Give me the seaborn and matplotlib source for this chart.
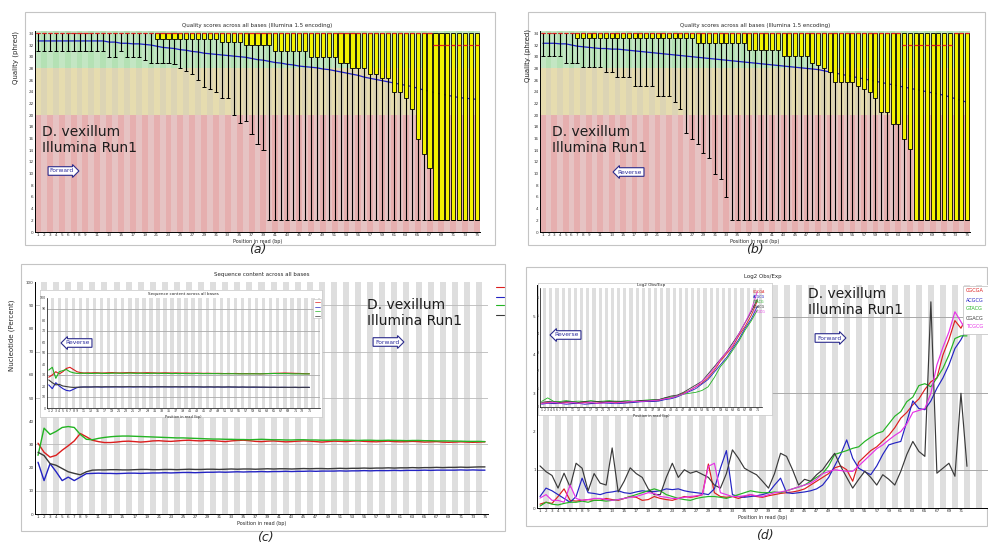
import matplotlib
matplotlib.use("Agg")
import matplotlib.pyplot as plt
from matplotlib.patches import Rectangle
from matplotlib.lines import Line2D
import numpy as np
import pandas as pd
import seaborn as sns

# ---------------- data ----------------
# (a) forward reads: per-position quality summary (phred)
a_p10 = [31, 31, 31, 31, 31, 31, 31, 31, 31, 31, 31, 31, 30, 30, 31,
         30, 30, 30, 29.5, 29, 29, 29, 29, 28.8, 28, 27.5, 27, 26, 24.8, 24.5,
         24, 23, 23, 20, 18.7, 19, 16.8, 15, 14, 2, 2, 2, 2, 2, 2,
         2, 2, 2, 2, 2, 2, 2, 2, 2, 2, 2, 2, 2, 2, 2,
         2, 2, 2, 2, 2, 2, 2, 2, 2, 2, 2, 2, 2, 2, 2]
a_q1 = [34, 34, 34, 34, 34, 34, 34, 34, 34, 34, 34, 34, 34, 34, 34,
        34, 34, 34, 34, 34, 33, 33, 33, 33, 33, 33, 33, 33, 33, 33,
        33, 32.5, 32.5, 32.5, 32.5, 32, 32, 32, 32, 32, 31, 31, 31, 31, 31,
        31, 30, 30, 30, 30, 30, 29, 29, 28, 28, 28, 27, 27, 26.3, 26.3,
        24, 24, 23, 21, 16, 13.4, 11, 2, 2, 2, 2, 2, 2, 2, 2]
a_med = [34, 34, 34, 34, 34, 34, 34, 34, 34, 34, 34, 34, 34, 34, 34,
         34, 34, 34, 34, 34, 34, 34, 34, 34, 34, 34, 34, 34, 34, 34,
         34, 34, 34, 34, 34, 34, 34, 34, 34, 34, 34, 34, 34, 34, 34,
         34, 34, 34, 34, 34, 34, 34, 34, 34, 34, 34, 34, 34, 34, 34,
         34, 34, 34, 34, 34, 34, 34, 32, 32, 32, 32, 32, 32, 32, 32]
a_q3 = [34, 34, 34, 34, 34, 34, 34, 34, 34, 34, 34, 34, 34, 34, 34,
        34, 34, 34, 34, 34, 34, 34, 34, 34, 34, 34, 34, 34, 34, 34,
        34, 34, 34, 34, 34, 34, 34, 34, 34, 34, 34, 34, 34, 34, 34,
        34, 34, 34, 34, 34, 34, 34, 34, 34, 34, 34, 34, 34, 34, 34,
        34, 34, 34, 34, 34, 34, 34, 34, 34, 34, 34, 34, 34, 34, 34]
a_p90 = list(a_q3)
a_mean = [32.7, 32.7, 32.7, 32.7, 32.7, 32.7, 32.7, 32.7, 32.7, 32.7, 32.7, 32.7, 32.5, 32.5, 32.3,
          32.3, 32.2, 32.2, 32.1, 32.0, 31.8, 31.6, 31.5, 31.4, 31.2, 31.1, 30.9, 30.8, 30.6, 30.5,
          30.4, 30.3, 30.2, 30.1, 30.0, 29.9, 29.7, 29.5, 29.4, 29.2, 29.0, 28.9, 28.7, 28.6, 28.4,
          28.3, 28.2, 28.1, 27.9, 27.8, 27.6, 27.4, 27.2, 27.0, 26.8, 26.5, 26.3, 26.1, 25.9, 25.7,
          25.5, 25.3, 25.1, 24.9, 24.6, 24.3, 24.1, 23.8, 23.6, 23.4, 23.2, 23.0, 22.9, 22.8, 22.7]

# (b) reverse reads
b_p10 = [30.1, 30.1, 30.1, 30.1, 29, 29, 29, 28.2, 28.2, 28.2, 28.2, 27.3, 27.3, 26.5, 26.5,
         26.5, 25, 25, 25, 25, 23.2, 23.2, 23.2, 22.2, 21, 17, 16, 15, 13.5, 12.7,
         10, 9, 6, 2, 2, 2, 2, 2, 2, 2, 2, 2, 2, 2, 2,
         2, 2, 2, 2, 2, 2, 2, 2, 2, 2, 2, 2, 2, 2, 2,
         2, 2, 2, 2, 2, 2, 2, 2, 2, 2, 2, 2, 2, 2, 2]
b_q1 = [34, 34, 34, 34, 34, 34, 33.2, 33.2, 33.2, 33.2, 33.2, 33.2, 33.2, 33.2, 33.2,
        33.2, 33.2, 33.2, 33.2, 33.2, 33.2, 33.2, 33.2, 33.2, 33.2, 33.2, 33.2, 32.3, 32.3, 32.3,
        32.3, 32.3, 32.3, 32.3, 32.3, 32.3, 31.1, 31.1, 31.1, 31.1, 31.1, 31.1, 30.2, 30.2, 30.2,
        30.2, 30.2, 29, 28.5, 28, 27.3, 25.6, 25.6, 25.6, 25.6, 25, 24.5, 24, 23, 20.5,
        20.5, 18.5, 18.5, 16, 14.2, 2, 2, 2, 2, 2, 2, 2, 2, 2, 2]
b_med = [34, 34, 34, 34, 34, 34, 34, 34, 34, 34, 34, 34, 34, 34, 34,
         34, 34, 34, 34, 34, 34, 34, 34, 34, 34, 34, 34, 34, 34, 34,
         34, 34, 34, 34, 34, 34, 34, 34, 34, 34, 34, 34, 34, 34, 34,
         34, 34, 34, 34, 34, 34, 34, 34, 34, 34, 34, 34, 34, 34, 34,
         34, 34, 34, 32, 32, 32, 32, 32, 32, 32, 32, 32, 34, 34, 34]
b_q3 = list(a_q3)
b_p90 = list(a_q3)
b_mean = [32.3, 32.3, 32.3, 32.2, 32.2, 32.0, 31.8, 31.7, 31.6, 31.5, 31.4, 31.4, 31.3, 31.3, 31.2,
          31.1, 31.0, 30.9, 30.8, 30.7, 30.6, 30.5, 30.4, 30.3, 30.2, 30.1, 30.0, 29.9, 29.8, 29.7,
          29.6, 29.5, 29.4, 29.3, 29.2, 29.1, 29.0, 28.9, 28.8, 28.7, 28.6, 28.5, 28.4, 28.3, 28.2,
          28.1, 28.0, 27.9, 27.8, 27.6, 27.4, 27.2, 27.0, 26.8, 26.6, 26.4, 26.2, 26.0, 25.8, 25.6,
          25.4, 25.2, 25.0, 24.8, 24.6, 24.4, 24.2, 24.0, 23.8, 23.6, 23.4, 23.1, 22.8, 22.5, 22.2]

# (c) per-base sequence content (%), forward
c_T = [30.5, 26.6, 24.5, 25.3, 27.5, 29.4, 31.5, 34.7, 33.3, 31.8, 31.2, 30.8, 30.8, 31.0, 31.3,
       31.4, 31.2, 31.0, 31.2, 31.5, 31.6, 31.4, 31.3, 31.5, 31.7, 31.8, 31.6, 31.5, 31.7, 31.6,
       31.4, 31.2, 31.5, 31.7, 31.8, 31.6, 31.3, 31.2, 31.4, 31.5, 31.3, 31.1, 31.2, 31.4, 31.5,
       31.4, 31.2, 31.0, 31.2, 31.4, 31.3, 31.2, 31.4, 31.5, 31.3, 31.2, 31.1, 31.3, 31.4, 31.2,
       31.1, 31.2, 31.3, 31.2, 31.0, 31.1, 31.2, 31.0, 30.9, 31.0, 31.1, 31.0, 30.9, 31.0, 31.1]
c_C = [22.3, 14.4, 21.7, 18.2, 14.4, 15.9, 14.4, 15.9, 17.4, 17.5, 17.6, 17.5, 17.5, 17.4, 17.5,
       17.6, 17.6, 17.5, 17.6, 17.7, 17.7, 17.8, 17.7, 17.8, 17.9, 17.9, 17.8, 17.9, 18.0, 18.0,
       18.1, 18.0, 18.1, 18.2, 18.1, 18.2, 18.2, 18.3, 18.2, 18.3, 18.3, 18.4, 18.3, 18.4, 18.4,
       18.5, 18.4, 18.5, 18.5, 18.5, 18.6, 18.5, 18.6, 18.6, 18.7, 18.6, 18.7, 18.7, 18.7, 18.8,
       18.7, 18.8, 18.8, 18.8, 18.9, 18.8, 18.9, 18.9, 18.9, 18.9, 19.0, 18.9, 19.0, 18.9, 18.9]
c_A = [25.3, 37.0, 34.3, 35.6, 37.3, 37.7, 37.3, 34.3, 32.2, 32.0, 32.6, 33.0, 33.3, 33.5, 33.6,
       33.6, 33.5, 33.4, 33.3, 33.2, 33.1, 33.0, 32.9, 32.8, 32.8, 32.7, 32.6, 32.5, 32.4, 32.3,
       32.3, 32.2, 32.2, 32.1, 32.1, 32.0, 32.1, 32.2, 32.1, 32.0, 32.0, 31.9, 31.9, 32.0, 32.0,
       31.9, 31.9, 31.8, 31.8, 31.9, 31.9, 31.8, 31.8, 31.7, 31.8, 31.8, 31.7, 31.7, 31.8, 31.7,
       31.7, 31.6, 31.7, 31.7, 31.6, 31.6, 31.5, 31.5, 31.5, 31.4, 31.4, 31.3, 31.3, 31.3, 31.2]
c_G = [26.6, 25.2, 21.7, 21.0, 19.6, 18.2, 17.5, 16.9, 18.2, 18.9, 19.0, 19.0, 19.1, 19.1, 19.0,
       19.0, 19.1, 19.2, 19.2, 19.1, 19.1, 19.2, 19.2, 19.1, 19.2, 19.3, 19.2, 19.2, 19.3, 19.3,
       19.2, 19.3, 19.4, 19.3, 19.4, 19.4, 19.3, 19.4, 19.5, 19.4, 19.5, 19.5, 19.4, 19.5, 19.6,
       19.5, 19.6, 19.6, 19.5, 19.6, 19.7, 19.6, 19.7, 19.7, 19.8, 19.7, 19.8, 19.8, 19.9, 19.8,
       19.9, 19.9, 20.0, 19.9, 20.0, 20.0, 20.1, 20.0, 20.1, 20.1, 20.2, 20.1, 20.2, 20.3, 20.3]

# (c, inset) per-base sequence content (%), reverse
ci_T = [28.0, 30.0, 33.0, 31.0, 33.0, 36.0, 37.0, 35.0, 33.0, 32.2, 31.8, 32.0, 31.9, 32.1, 32.0,
        31.8, 31.9, 32.1, 32.2, 32.0, 31.9, 32.0, 32.1, 32.2, 32.1, 32.0, 31.9, 32.0, 32.1, 32.0,
        31.9, 31.8, 31.9, 32.0, 31.9, 31.8, 31.9, 31.8, 31.7, 31.8, 31.7, 31.6, 31.7, 31.6, 31.5,
        31.6, 31.5, 31.4, 31.5, 31.4, 31.3, 31.4, 31.3, 31.4, 31.3, 31.2, 31.3, 31.2, 31.3, 31.2,
        31.1, 31.2, 31.3, 31.4, 31.5, 31.6, 31.7, 31.8, 31.7, 31.6, 31.5, 31.4, 31.3, 31.2, 31.1]
ci_C = [21.0, 17.6, 23.0, 20.0, 17.6, 16.0, 15.5, 17.0, 18.5, 19.0, 19.1, 19.0, 19.1, 19.2, 19.1,
        19.0, 19.1, 19.2, 19.1, 19.2, 19.2, 19.1, 19.2, 19.2, 19.1, 19.2, 19.3, 19.2, 19.2, 19.1,
        19.2, 19.2, 19.3, 19.2, 19.2, 19.1, 19.2, 19.2, 19.1, 19.2, 19.2, 19.1, 19.2, 19.1, 19.0,
        19.1, 19.1, 19.0, 19.1, 19.0, 19.0, 19.1, 19.0, 19.0, 18.9, 19.0, 18.9, 18.9, 18.8, 18.9,
        18.8, 18.8, 18.8, 18.7, 18.8, 18.7, 18.7, 18.8, 18.7, 18.7, 18.7, 18.6, 18.7, 18.7, 18.7]
ci_A = [34.5, 37.0, 27.0, 33.0, 34.0, 35.0, 33.0, 32.0, 31.5, 31.5, 31.6, 31.5, 31.4, 31.5, 31.6,
        31.5, 31.4, 31.5, 31.6, 31.7, 31.6, 31.5, 31.6, 31.7, 31.6, 31.5, 31.6, 31.5, 31.4, 31.5,
        31.6, 31.5, 31.4, 31.5, 31.4, 31.3, 31.4, 31.3, 31.4, 31.3, 31.2, 31.3, 31.4, 31.3, 31.2,
        31.3, 31.2, 31.3, 31.2, 31.1, 31.2, 31.1, 31.2, 31.1, 31.0, 31.1, 31.0, 31.1, 31.0, 31.1,
        31.0, 31.1, 31.2, 31.3, 31.4, 31.3, 31.2, 31.3, 31.2, 31.1, 31.0, 31.1, 31.0, 31.0, 31.0]
ci_G = [25.5, 23.0, 21.0, 21.5, 20.0, 19.5, 19.0, 18.7, 18.9, 19.0, 19.1, 19.2, 19.1, 19.2, 19.3,
        19.2, 19.3, 19.2, 19.3, 19.3, 19.2, 19.3, 19.3, 19.4, 19.3, 19.3, 19.2, 19.3, 19.3, 19.2,
        19.3, 19.3, 19.2, 19.3, 19.2, 19.3, 19.3, 19.2, 19.3, 19.2, 19.2, 19.3, 19.2, 19.2, 19.1,
        19.2, 19.2, 19.1, 19.2, 19.1, 19.1, 19.2, 19.1, 19.1, 19.0, 19.1, 19.0, 19.0, 19.1, 19.0,
        19.0, 19.0, 18.9, 18.9, 18.9, 18.8, 18.9, 18.8, 18.8, 18.8, 18.9, 18.8, 18.8, 18.8, 18.8]

# (d) kmer enrichment, forward (log2 obs/exp)
d_K1 = [0.1, 0.15, 0.12, 0.3, 0.5, 0.2, 0.18, 0.2, 0.22, 0.2,
        0.2, 0.25, 0.22, 0.2, 0.25, 0.3, 0.28, 0.2, 0.22, 0.3,
        0.25, 0.22, 0.2, 0.25, 0.3, 0.28, 0.3, 0.35, 1.15, 0.4,
        0.3, 0.28, 0.3, 0.25, 0.3, 0.35, 0.3, 0.28, 0.32, 0.35,
        0.38, 0.4, 0.42, 0.45, 0.5, 0.6, 0.7, 0.8, 0.9, 1.05,
        1.1, 1.0, 0.7, 1.2, 1.35, 1.5, 1.6, 1.75, 1.9, 2.1,
        2.35, 2.5, 2.7, 2.85, 3.1, 3.3, 3.4, 4.0, 4.4, 4.9, 4.7, 5.0]
d_K2 = [0.3, 0.52, 0.45, 0.35, 0.25, 0.15, 0.3, 0.78, 0.4, 0.38,
        0.35, 0.4, 0.42, 0.45, 0.4, 0.38, 0.42, 0.45, 0.43, 0.43,
        0.45, 0.5, 0.48, 0.5, 0.45, 0.42, 0.4, 0.38, 0.35, 0.5,
        1.04, 1.5, 0.35, 0.3, 0.28, 0.3, 0.32, 0.35, 0.4, 0.6,
        0.78, 0.4, 0.38, 0.4, 0.42, 0.45, 0.5, 0.6, 0.8, 1.1,
        1.4, 1.78, 1.3, 1.04, 0.95, 0.87, 1.1, 1.4, 1.65, 1.7,
        1.74, 2.26, 2.8, 2.6, 2.57, 2.8, 3.13, 3.4, 3.74, 4.17, 4.4, 4.7]
d_K3 = [0.05, 0.15, 0.1, 0.08, 0.12, 0.15, 0.15, 0.18, 0.15, 0.2,
        0.2, 0.18, 0.2, 0.22, 0.25, 0.3, 0.35, 0.4, 0.45, 0.5,
        0.45, 0.35, 0.3, 0.25, 0.22, 0.2, 0.25, 0.28, 0.3, 0.3,
        0.28, 0.25, 0.3, 0.35, 0.4, 0.45, 0.42, 0.4, 0.4, 0.42,
        0.4, 0.45, 0.5, 0.55, 0.6, 0.7, 0.8, 0.9, 1.1, 1.4,
        1.45, 1.5, 1.56, 1.6, 1.74, 1.85, 1.95, 2.0, 2.2, 2.4,
        2.52, 2.78, 2.9, 3.2, 3.25, 3.17, 3.4, 3.65, 4.0, 4.43, 4.5, 4.5]
d_K4 = [1.1, 0.95, 0.85, 0.52, 0.91, 0.55, 1.17, 1.04, 0.45, 0.9,
        0.65, 0.6, 1.57, 0.42, 0.7, 1.05, 0.9, 0.8, 0.5, 0.35,
        0.35, 0.8, 1.17, 0.8, 1.0, 0.91, 0.96, 0.88, 0.8, 0.6,
        0.52, 0.9, 1.52, 1.3, 1.04, 0.95, 0.87, 0.7, 0.52, 0.9,
        1.43, 1.35, 1.0, 0.6, 0.75, 0.7, 0.87, 1.0, 1.22, 1.43,
        1.09, 0.8, 0.52, 0.75, 0.96, 0.8, 0.6, 0.87, 0.75, 0.6,
        0.96, 1.4, 1.74, 1.48, 1.35, 5.39, 0.91, 1.04, 1.17, 0.83, 3.0, 1.09]
d_K5 = [0.26, 0.35, 0.2, 0.2, 0.15, 0.6, 0.25, 0.2, 0.22, 0.25,
        0.25, 0.22, 0.2, 0.22, 0.25, 0.28, 0.3, 0.35, 0.4, 0.38,
        0.3, 0.28, 0.25, 0.25, 0.28, 0.3, 0.32, 0.35, 1.09, 1.17,
        0.4, 0.35, 0.3, 0.3, 0.32, 0.35, 0.32, 0.3, 0.35, 0.4,
        0.42, 0.45, 0.5, 0.55, 0.6, 0.65, 0.75, 0.9, 0.95, 1.0,
        0.98, 0.96, 0.96, 1.1, 1.25, 1.4, 1.55, 1.65, 1.78, 1.9,
        2.0, 2.2, 2.5, 2.55, 2.6, 3.0, 3.74, 4.2, 4.6, 5.13, 4.87, 4.6]
kmer_names = ["CGCGA", "ACGCG", "GTACG", "CGACG", "TCGCG"]

# (d, inset) kmer enrichment, reverse (every second base)
di_pos = [1, 3, 5, 7, 9, 11, 13, 15, 17, 19, 21, 23, 25, 27, 29, 31, 33, 35,
          37, 39, 41, 43, 45, 47, 49, 51, 53, 55, 57, 59, 61, 63, 65, 67, 69, 71]
di_K1 = [0.2, 0.25, 0.2, 0.22, 0.25, 0.2, 0.22, 0.25, 0.2, 0.22, 0.25, 0.28, 0.25, 0.22, 0.25, 0.28, 0.3, 0.3,
         0.32, 0.35, 0.45, 0.5, 0.6, 0.75, 0.9, 1.1, 1.3, 1.6, 2.0, 2.5, 2.9, 3.3, 3.9, 4.4, 5.0, 5.8]
di_K2 = [0.15, 0.2, 0.18, 0.2, 0.15, 0.18, 0.2, 0.15, 0.18, 0.2, 0.22, 0.2, 0.18, 0.2, 0.22, 0.25, 0.28, 0.3,
         0.3, 0.32, 0.4, 0.45, 0.55, 0.7, 0.85, 1.0, 1.25, 1.5, 1.9, 2.3, 2.7, 3.2, 3.7, 4.3, 4.8, 5.5]
di_K3 = [0.3, 0.5, 0.3, 0.3, 0.35, 0.3, 0.32, 0.3, 0.35, 0.3, 0.32, 0.35, 0.3, 0.32, 0.35, 0.3, 0.35, 0.38,
         0.4, 0.4, 0.5, 0.55, 0.6, 0.7, 0.75, 0.8, 0.9, 1.1, 1.6, 2.2, 2.6, 3.1, 3.6, 4.2, 4.7, 5.3]
di_K4 = [0.25, 0.3, 0.28, 0.25, 0.3, 0.28, 0.25, 0.3, 0.28, 0.3, 0.28, 0.3, 0.32, 0.3, 0.28, 0.32, 0.35, 0.35,
         0.38, 0.4, 0.5, 0.6, 0.65, 0.8, 1.0, 1.2, 1.4, 1.8, 2.2, 2.6, 3.0, 3.5, 4.0, 4.6, 5.2, 5.9]
di_K5 = [0.2, 0.22, 0.25, 0.2, 0.22, 0.25, 0.2, 0.22, 0.25, 0.2, 0.22, 0.25, 0.22, 0.25, 0.28, 0.3, 0.3, 0.32,
         0.35, 0.38, 0.45, 0.5, 0.6, 0.7, 0.9, 1.1, 1.4, 1.7, 2.1, 2.6, 3.0, 3.4, 4.0, 4.6, 5.3, 6.3]

# ---------------- styling ----------------
sns.set_theme(style="white")
plt.rcParams["font.family"] = ["DejaVu Sans"]

W, H = 988, 543
fig = plt.figure(figsize=(W / 100, H / 100), dpi=100)
fig.patch.set_facecolor("white")

RED, BLUE, GREEN, BLACK, MAGENTA = "#dc1e1e", "#2323c3", "#23b423", "#3a3a3a", "#e632e6"
base_palette = {"%T": RED, "%C": BLUE, "%A": GREEN, "%G": BLACK}
kmer_palette = dict(zip(kmer_names, [RED, BLUE, GREEN, BLACK, MAGENTA]))


def px_rect(x0, y0, x1, y1):
    return [x0 / W, 1 - y1 / H, (x1 - x0) / W, (y1 - y0) / H]


def frame(x0, y0, x1, y1, ec="#c4c4c4", fc="none", lw=0.8, z=0):
    fig.add_artist(Rectangle((x0 / W, 1 - y1 / H), (x1 - x0) / W, (y1 - y0) / H,
                             transform=fig.transFigure, fc=fc, ec=ec, lw=lw, zorder=z))


def fig_text(x, y, s, **kw):
    fig.text(x / W, 1 - y / H, s, **kw)


def style_axes(ax, fs=3):
    for s in ("top", "right"):
        ax.spines[s].set_visible(False)
    for s in ("left", "bottom"):
        ax.spines[s].set_color("black")
        ax.spines[s].set_linewidth(0.7)
    ax.tick_params(length=0, pad=1, labelsize=fs, colors="#333333")
    ax.grid(False)


def position_ticks(ax, n, fs):
    ticks = list(range(1, 10)) + list(range(11, n + 1, 2))
    ax.set_xticks(ticks)
    ax.set_xticklabels([str(t) for t in ticks], fontsize=fs)


def stripes(ax, n, top, colors=("#ffffff", "#dedede")):
    pos = np.arange(1, n + 1)
    ax.bar(pos, top, bottom=0, width=1.0, color=[colors[i % 2] for i in range(n)],
           linewidth=0, zorder=0)


def arrow_label(x, y, s, direction):
    style = "rarrow,pad=0.3" if direction == "right" else "larrow,pad=0.3"
    fig_text(x, y, s, fontsize=4.3, color="#2b2b9c", ha="center", va="center",
             bbox=dict(boxstyle=style, fc="white", ec="#2b2b8c", lw=0.8), zorder=20)


def species_label(x, y):
    fig_text(x, y, "D. vexillum\nIllumina Run1", fontsize=10, color="#1e1e1e",
             ha="left", va="top", linespacing=1.2, zorder=20)


def quality_panel(rect, p10, q1, med, q3, p90, mean):
    ax = fig.add_axes(px_rect(*rect))
    n = len(med)
    pos = np.arange(1, n + 1)
    ytop = 34.4
    bands = [(0, 20, ("#e6afaf", "#e6c3c3")),
             (20, 28, ("#e6dcaf", "#dcd4b4")),
             (28, ytop, ("#c3e6c3", "#b4e1b4"))]
    for lo, hi, cols in bands:
        ax.bar(pos, hi - lo, bottom=lo, width=1.0,
               color=[cols[i % 2] for i in range(n)], linewidth=0, zorder=0)
    sns.lineplot(x=pos, y=mean, ax=ax, color="#1e1ec8", linewidth=0.9, zorder=2)
    q1a, q3a = np.array(q1, float), np.array(q3, float)
    half = 0.35
    ax.bar(pos, q3a - q1a, bottom=q1a, width=2 * half, color="#f2f200",
           edgecolor="black", linewidth=0.6, zorder=3)
    ax.vlines(pos, p10, q1, color="black", lw=0.8, zorder=4)
    ax.vlines(pos, q3, p90, color="black", lw=0.8, zorder=4)
    ax.hlines(p10, pos - half, pos + half, color="black", lw=0.7, zorder=4)
    ax.hlines(med, pos - half, pos + half, color="#e61e1e", lw=0.9, zorder=5)
    ax.set_xlim(0.5, n + 0.5)
    ax.set_ylim(0, ytop)
    ax.set_yticks(range(0, 35, 2))
    ax.set_yticklabels([str(v) for v in range(0, 35, 2)], fontsize=3)
    position_ticks(ax, n, 3)
    style_axes(ax)
    ax.set_title("Quality scores across all bases (Illumina 1.5 encoding)", fontsize=4, pad=3)
    ax.set_xlabel("Position in read (bp)", fontsize=3.5, labelpad=1.5)
    ax.set_ylabel("")
    return ax


# ---------------- (a) forward quality ----------------
frame(25, 12, 495, 245)
quality_panel((35, 31, 480, 232), a_p10, a_q1, a_med, a_q3, a_p90, a_mean)
fig_text(16, 57, "Quality (phred)", rotation=90, fontsize=5, ha="center", va="center")
species_label(42, 125)
arrow_label(62, 171, "Forward", "right")
fig_text(258, 250, "(a)", fontsize=9, style="italic", ha="center", va="center")

# ---------------- (b) reverse quality ----------------
frame(528, 12, 985, 245)
quality_panel((540, 31, 970, 232), b_p10, b_q1, b_med, b_q3, b_p90, b_mean)
fig_text(528, 55, "Quality (phred)", rotation=90, fontsize=5, ha="center", va="center")
species_label(552, 125)
arrow_label(630, 172, "Reverse", "left")
fig_text(755, 250, "(b)", fontsize=9, style="italic", ha="center", va="center")

# ---------------- (c) sequence content ----------------
frame(21, 264, 505, 531)
n_c = len(c_T)
pos_c = list(range(1, n_c + 1))
ax_c = fig.add_axes(px_rect(35, 282, 488, 514))
stripes(ax_c, n_c, 100)
ax_c.hlines([10, 30, 50, 70, 90], 0.5, n_c + 0.5, color="#b9b9b9", lw=0.6, zorder=1)
c_df = pd.DataFrame({"pos": pos_c * 4,
                     "pct": c_T + c_C + c_A + c_G,
                     "base": ["%T"] * n_c + ["%C"] * n_c + ["%A"] * n_c + ["%G"] * n_c})
sns.lineplot(data=c_df, x="pos", y="pct", hue="base", palette=base_palette,
             linewidth=1.0, legend=False, ax=ax_c, zorder=3)
ax_c.set_xlim(0.5, n_c + 0.5)
ax_c.set_ylim(0, 100)
ax_c.set_yticks(range(0, 101, 10))
ax_c.set_yticklabels([str(v) for v in range(0, 101, 10)], fontsize=3)
position_ticks(ax_c, n_c, 3)
style_axes(ax_c)
ax_c.set_title("Sequence content across all bases", fontsize=4, pad=4)
ax_c.set_xlabel("Position in read (bp)", fontsize=3.5, labelpad=1.5)
ax_c.set_ylabel("")
fig_text(12, 335, "Nucleotide (Percent)", rotation=90, fontsize=5, ha="center", va="center")
for yy, col in zip([287, 297, 305, 315], [RED, BLUE, GREEN, BLACK]):
    fig.add_artist(Line2D([496 / W, 504 / W], [1 - yy / H, 1 - yy / H],
                          transform=fig.transFigure, color=col, lw=0.8))

# inset: reverse reads
ax_ci_bg = fig.add_axes(px_rect(40, 290, 322, 417))
ax_ci_bg.set_xticks([]); ax_ci_bg.set_yticks([])
ax_ci_bg.set_facecolor("white")
for s in ax_ci_bg.spines.values():
    s.set_color("#d0d0d0"); s.set_linewidth(0.6)
ax_ci = fig.add_axes(px_rect(47, 298, 320, 408))
stripes(ax_ci, 78, 100)
ax_ci.hlines([10, 30, 50, 70, 90], 0.5, 78, color="#aaaaaa", lw=0.6, zorder=1)
ci_df = pd.DataFrame({"pos": pos_c * 4,
                      "pct": ci_T + ci_C + ci_A + ci_G,
                      "base": ["%T"] * n_c + ["%C"] * n_c + ["%A"] * n_c + ["%G"] * n_c})
sns.lineplot(data=ci_df, x="pos", y="pct", hue="base", palette=base_palette,
             linewidth=0.8, legend=False, ax=ax_ci, zorder=3)
ax_ci.set_xlim(0.5, 78)
ax_ci.set_ylim(0, 100)
ax_ci.set_yticks(range(0, 101, 10))
ax_ci.set_yticklabels([str(v) for v in range(0, 101, 10)], fontsize=2.3)
position_ticks(ax_ci, n_c, 2.3)
style_axes(ax_ci, fs=2.3)
for s in ("left", "bottom"):
    ax_ci.spines[s].set_linewidth(0.5)
ax_ci.set_title("Sequence content across all bases", fontsize=3, pad=2)
ax_ci.set_xlabel("Position in read (bp)", fontsize=2.6, labelpad=1)
ax_ci.set_ylabel("")
frame(313, 299, 321, 318, ec="#c8c8c8", fc="white", lw=0.5, z=5)
for yy, col in zip([302, 306.5, 311, 315.5], [RED, BLUE, GREEN, BLACK]):
    fig.add_artist(Line2D([314.5 / W, 319.5 / W], [1 - yy / H, 1 - yy / H],
                          transform=fig.transFigure, color=col, lw=0.5, zorder=6))

species_label(367, 298)
arrow_label(387, 342, "Forward", "right")
arrow_label(78, 343, "Reverse", "left")
fig_text(265, 538, "(c)", fontsize=9, style="italic", ha="center", va="center")

# ---------------- (d) kmer content ----------------
frame(526, 267, 987, 526)
n_d = len(d_K1)
pos_d = list(range(1, n_d + 1))
ax_d = fig.add_axes(px_rect(537, 285, 988, 508))
stripes(ax_d, 75, 6.0)
ax_d.hlines([1, 3, 5], 0.5, 75.5, color="#a8a8a8", lw=0.7, zorder=1)
d_df = pd.DataFrame({"pos": pos_d * 5,
                     "enrich": d_K1 + d_K2 + d_K3 + d_K4 + d_K5,
                     "kmer": sum([[k] * n_d for k in kmer_names], [])})
sns.lineplot(data=d_df, x="pos", y="enrich", hue="kmer", palette=kmer_palette,
             linewidth=0.85, legend=False, ax=ax_d, zorder=3)
ax_d.set_xlim(0.5, 75.5)
ax_d.set_ylim(0, 5.83)
ax_d.set_yticks(range(0, 6))
ax_d.set_yticklabels([str(v) for v in range(0, 6)], fontsize=3)
position_ticks(ax_d, n_d, 3)
style_axes(ax_d)
ax_d.set_title("Log2 Obs/Exp", fontsize=4, pad=5)
ax_d.set_xlabel("Position in read (bp)", fontsize=3.5, labelpad=1.5)
ax_d.set_ylabel("")
frame(963, 286, 995, 334, ec="#c8c8c8", fc="white", lw=0.6, z=5)
for yy, name in zip([291, 300, 309, 318, 327], kmer_names):
    fig_text(966, yy, name, fontsize=3.6, color=kmer_palette[name], ha="left",
             va="center", zorder=6)

# inset: reverse reads
ax_di_bg = fig.add_axes(px_rect(538, 283, 772, 415))
ax_di_bg.set_xticks([]); ax_di_bg.set_yticks([])
ax_di_bg.set_facecolor("white")
for s in ax_di_bg.spines.values():
    s.set_color("#d0d0d0"); s.set_linewidth(0.6)
ax_di = fig.add_axes(px_rect(540, 288, 762, 407))
stripes(ax_di, 72, 6.5)
n_di = len(di_pos)
di_df = pd.DataFrame({"pos": di_pos * 5,
                      "enrich": di_K1 + di_K2 + di_K3 + di_K4 + di_K5,
                      "kmer": sum([[k] * n_di for k in kmer_names], [])})
sns.lineplot(data=di_df, x="pos", y="enrich", hue="kmer", palette=kmer_palette,
             linewidth=0.6, legend=False, ax=ax_di, zorder=3)
ax_di.set_xlim(0.5, 72.5)
ax_di.set_ylim(0, 6.5)
ax_di.set_yticks(range(0, 7))
ax_di.set_yticklabels([str(v) for v in range(0, 7)], fontsize=2.3)
position_ticks(ax_di, 71, 2.3)
style_axes(ax_di, fs=2.3)
for s in ("left", "bottom"):
    ax_di.spines[s].set_linewidth(0.5)
ax_di.set_title("Log2 Obs/Exp", fontsize=3, pad=1.5)
ax_di.set_xlabel("Position in read (bp)", fontsize=2.6, labelpad=1)
ax_di.set_ylabel("")
for yy, name in zip([292, 297, 302, 307, 312], kmer_names):
    fig_text(753, yy, name, fontsize=2.4, color=kmer_palette[name], ha="left",
             va="center", zorder=6)

species_label(808, 287)
arrow_label(829, 338, "Forward", "right")
arrow_label(567, 335, "Reverse", "left")
fig_text(765, 535, "(d)", fontsize=9, style="italic", ha="center", va="center")

fig.savefig("out.png", dpi=100, facecolor="white")
